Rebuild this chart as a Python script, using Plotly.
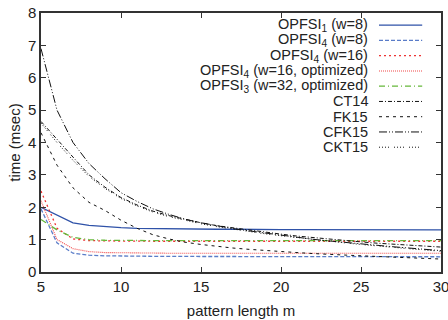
import plotly.graph_objects as go

m = list(range(5, 31))

opfsi1_w8 = [2.0, 1.76, 1.52, 1.44, 1.40, 1.37, 1.35, 1.34, 1.33, 1.33, 1.32, 1.32, 1.32, 1.31, 1.31,
             1.31, 1.31, 1.31, 1.30, 1.30, 1.30, 1.30, 1.30, 1.30, 1.30, 1.30]
opfsi4_w8 = [1.95, 0.90, 0.58, 0.52, 0.50, 0.49, 0.49, 0.48, 0.48, 0.48, 0.48, 0.48, 0.47, 0.47, 0.47,
             0.47, 0.47, 0.47, 0.47, 0.47, 0.47, 0.47, 0.47, 0.47, 0.47, 0.47]
opfsi4_w16 = [2.50, 1.35, 1.02, 0.97, 0.96, 0.95, 0.95, 0.95, 0.95, 0.95, 0.95, 0.95, 0.95, 0.95, 0.95,
              0.95, 0.95, 0.95, 0.95, 0.95, 0.95, 0.95, 0.95, 0.95, 0.95, 0.95]
opfsi4_w16_opt = [2.20, 1.00, 0.72, 0.63, 0.60, 0.59, 0.58, 0.58, 0.58, 0.58, 0.58, 0.58, 0.58, 0.58, 0.58,
                  0.58, 0.58, 0.58, 0.58, 0.58, 0.58, 0.58, 0.58, 0.58, 0.58, 0.58]
opfsi3_w32_opt = [1.62, 1.30, 1.07, 1.00, 0.98, 0.97, 0.97, 0.97, 0.97, 0.97, 0.97, 0.97, 0.97, 0.97, 0.97,
                  0.97, 0.97, 0.97, 0.97, 0.97, 0.97, 0.97, 0.97, 0.97, 0.97, 0.97]
ct14 = [4.65, 4.10, 3.55, 3.00, 2.62, 2.30, 2.07, 1.88, 1.74, 1.62, 1.52, 1.43, 1.36, 1.29, 1.23,
        1.17, 1.11, 1.06, 1.01, 0.97, 0.93, 0.89, 0.86, 0.83, 0.80, 0.77]
fk15 = [4.30, 3.30, 2.60, 2.15, 1.90, 1.60, 1.35, 1.15, 1.02, 0.92, 0.85, 0.79, 0.74, 0.70, 0.66,
        0.63, 0.60, 0.57, 0.54, 0.52, 0.50, 0.48, 0.46, 0.44, 0.42, 0.40]
cfk15 = [6.90, 5.00, 4.00, 3.35, 2.88, 2.45, 2.18, 1.95, 1.78, 1.63, 1.52, 1.42, 1.34, 1.27, 1.20,
         1.13, 1.07, 1.01, 0.96, 0.91, 0.86, 0.82, 0.78, 0.74, 0.70, 0.66]
ckt15 = [4.60, 4.00, 3.45, 2.95, 2.58, 2.27, 2.04, 1.85, 1.71, 1.59, 1.49, 1.40, 1.32, 1.25, 1.18,
         1.12, 1.06, 1.00, 0.95, 0.90, 0.85, 0.80, 0.76, 0.72, 0.68, 0.64]

x_ticks = [5, 10, 15, 20, 25, 30]
y_ticks = [0, 1, 2, 3, 4, 5, 6, 7, 8]

labels = ["OPFSI<sub>1</sub> (w=8)", "OPFSI<sub>4</sub> (w=8)", "OPFSI<sub>4</sub> (w=16)",
          "OPFSI<sub>4</sub> (w=16, optimized)", "OPFSI<sub>3</sub> (w=32, optimized)",
          "CT14", "FK15", "CFK15", "CKT15"]
series = [opfsi1_w8, opfsi4_w8, opfsi4_w16, opfsi4_w16_opt, opfsi3_w32_opt, ct14, fk15, cfk15, ckt15]
colors = ["#2f52a8", "#5a7cc8", "#ee3333", "#f04848", "#66b83a", "#111111", "#111111", "#111111", "#111111"]
dashes = ["solid", "4px,2px", "2px,3px", "1px,1px", "6px,3px,1px,3px",
          "4px,2px,1px,2px", "3px,4px", "8px,2px,1px,2px,1px,2px", "1px,2px,1px,2px,1px,2px,1px,5px"]
widths = [1.3, 1.3, 1.3, 1.1, 1.3, 1.0, 1.0, 1.0, 1.0]

fig = go.Figure()
for lab, ys, c, d, w in zip(labels, series, colors, dashes, widths):
    fig.add_trace(go.Scatter(x=m, y=ys, mode="lines", name=lab, showlegend=False,
                             line=dict(color=c, dash=d, width=w)))

# gnuplot-style legend: right-aligned text, sample line to its right
y0 = 0.953
dy = 0.0589
for i, (lab, c, d, w) in enumerate(zip(labels, colors, dashes, widths)):
    yy = y0 - i * dy
    fig.add_annotation(xref="paper", yref="paper", x=0.823, y=yy, text=lab, showarrow=False,
                       xanchor="right", yanchor="middle",
                       font=dict(size=14.5, color="#222222"))
    fig.add_shape(type="line", xref="paper", yref="paper", x0=0.845, x1=0.953, y0=yy, y1=yy,
                  line=dict(color=c, dash=d, width=w))

axis_common = dict(showgrid=False, zeroline=False, showline=True, mirror="allticks",
                   linecolor="#333333", linewidth=1.5, ticks="inside", ticklen=5,
                   tickcolor="#333333", tickfont=dict(size=15, color="#222222"),
                   automargin=False, ticklabeloverflow="allow")

fig.update_xaxes(range=[5, 30], tickvals=x_ticks,
                 title=dict(text="pattern length m", font=dict(size=15, color="#222222"), standoff=12),
                 **axis_common)
fig.update_yaxes(range=[0, 8], tickvals=y_ticks,
                 title=dict(text="time (msec)", font=dict(size=15, color="#222222"), standoff=4),
                 **axis_common)

fig.update_layout(width=448, height=320, margin=dict(l=41, r=7, t=13, b=48),
                  plot_bgcolor="white", paper_bgcolor="white",
                  font=dict(family="Liberation Sans, Arial, sans-serif"))

fig.write_html("out.html", config={"displayModeBar": False},
               post_script="document.body.style.margin='0';document.body.style.padding='0';")
